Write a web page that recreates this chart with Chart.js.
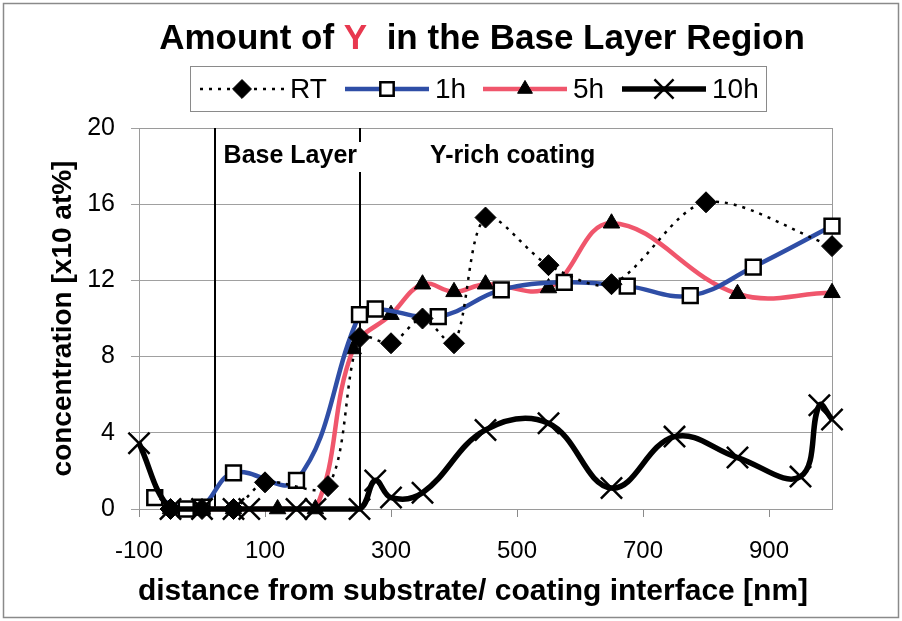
<!DOCTYPE html>
<html>
<head>
<meta charset="utf-8">
<script src="https://cdn.jsdelivr.net/npm/chart.js@4.4.0/dist/chart.umd.min.js"></script>
<style>
  html, body { margin: 0; padding: 0; background: #fff; }
  #wrap { width: 902px; height: 621px; }
</style>
</head>
<body>
<div id="wrap"><canvas id="c" width="902" height="621"></canvas></div>
<script>
// series values (x in nm, y in x10 at%)
const rtX = [-50, 0, 50, 100, 200, 250, 300, 350, 400, 450, 550, 650, 800, 1000];
const rtY = [0, 0, 0, 1.4, 1.2, 9.0, 8.7, 10.0, 8.7, 15.3, 12.8, 11.8, 16.1, 13.8];

const h1X = [-75, -25, 0, 50, 150, 250, 275, 375, 475, 575, 675, 775, 875, 1000];
const h1Y = [0.6, 0, 0.1, 1.9, 1.5, 10.2, 10.5, 10.1, 11.5, 11.9, 11.7, 11.2, 12.7, 14.85];

const h5X = [-50, 0, 50, 120, 180, 240, 300, 350, 400, 450, 550, 650, 850, 1000];
const h5Y = [0, 0, 0, 0, 0, 8.4, 10.2, 11.8, 11.4, 11.8, 11.6, 15.0, 11.3, 11.35];

const h10X = [-100, -50, 0, 50, 75, 150, 180, 250, 275, 300, 350, 450, 550, 650, 750, 850, 950, 980, 1000];
const h10Y = [3.45, 0, 0, 0, 0, 0, 0, 0, 1.5, 0.6, 0.85, 4.15, 4.5, 1.1, 3.8, 2.7, 1.7, 5.45, 4.7];

const seriesNames = ['RT', '1h', '5h', '10h'];
const xTicks = [-100, 100, 300, 500, 700, 900];
const regionBounds = [20, 250];
const regionLabels = ['Base Layer', 'Y-rich coating'];
const xTitle = 'distance from substrate/ coating interface [nm]';

const FONT = "'Liberation Sans', Arial, sans-serif";

const toPts = (xs, ys) => xs.map((x, i) => ({ x: x, y: ys[i] }));

const styles = [
    { color: '#000000', width: 2.5, dash: [3, 6], point: 'rectRot', radius: 10.5, fill: '#000', pbw: 1 },
    { color: '#2f4ea6', width: 4.5, dash: [], point: 'rect', radius: 10.5, fill: '#ffffff', pbw: 2.5 },
    { color: '#f0566c', width: 4.5, dash: [], point: 'triangle', radius: 9.5, fill: '#000', pbw: 1 },
    { color: '#000000', width: 5.5, dash: [], point: 'crossRot', radius: 15, fill: '#000', pbw: 2.5 }
];
const seriesData = [toPts(rtX, rtY), toPts(h1X, h1Y), toPts(h5X, h5Y), toPts(h10X, h10Y)];
const drawOrder = [1, 2, 3, 0];

const datasets = seriesNames.map((name, i) => ({
    label: name,
    data: seriesData[i],
    borderColor: styles[i].color,
    borderWidth: styles[i].width,
    borderDash: styles[i].dash,
    tension: i === 0 ? 0.3 : 0.4,
    pointStyle: styles[i].point,
    pointRadius: styles[i].radius,
    pointBackgroundColor: styles[i].fill,
    pointBorderColor: '#000',
    pointBorderWidth: styles[i].pbw,
    fill: false,
    clip: 16,
    order: drawOrder[i]
}));

// frame, region lines + labels, title, x title and legend box
const decor = {
    id: 'decor',
    beforeDraw(chart) {
        const { ctx, width, height } = chart;
        ctx.save();
        ctx.fillStyle = '#fff';
        ctx.fillRect(0, 0, width, height);
        ctx.strokeStyle = '#8a8a8a';
        ctx.lineWidth = 1.5;
        ctx.strokeRect(3.5, 3.5, width - 7, height - 7);
        ctx.restore();
    },
    beforeDatasetsDraw(chart) {
        const { ctx, chartArea: a, scales: { x } } = chart;
        ctx.save();
        ctx.strokeStyle = '#9a9a9a';
        ctx.lineWidth = 1;
        ctx.strokeRect(a.left + 0.5, a.top + 0.5, a.right - a.left, a.bottom - a.top);
        ctx.strokeStyle = '#000';
        ctx.lineWidth = 2;
        regionBounds.forEach(v => {
            const px = Math.round(x.getPixelForValue(v));
            ctx.beginPath();
            ctx.moveTo(px, a.top);
            ctx.lineTo(px, a.bottom);
            ctx.stroke();
        });
        ctx.font = 'bold 25px ' + FONT;
        ctx.textBaseline = 'middle';
        const b1 = x.getPixelForValue(regionBounds[0]);
        const w1 = ctx.measureText(regionLabels[0]).width;
        ctx.fillStyle = '#fff';
        ctx.fillRect(b1 + 7, a.top + 14, w1 + 6, 30);
        ctx.fillStyle = '#000';
        ctx.fillText(regionLabels[0], b1 + 9, a.top + 28);
        ctx.fillText(regionLabels[1], 430, a.top + 28);
        ctx.restore();
    },
    afterDraw(chart) {
        const { ctx } = chart;
        ctx.save();
        // title with red Y
        const parts = [['Amount of ', '#000'], ['Y', '#e8384f'], ['  in the Base Layer Region', '#000']];
        ctx.font = 'bold 35px ' + FONT;
        ctx.textBaseline = 'middle';
        const total = parts.reduce((s, p) => s + ctx.measureText(p[0]).width, 0);
        let tx = 482 - total / 2;
        parts.forEach(p => {
            ctx.fillStyle = p[1];
            ctx.fillText(p[0], tx, 39);
            tx += ctx.measureText(p[0]).width;
        });

        // x axis title (sits a bit left of the plot centre in the original)
        ctx.font = 'bold 30px ' + FONT;
        ctx.textAlign = 'center';
        ctx.fillStyle = '#000';
        ctx.fillText(xTitle, 473, 592);
        ctx.textAlign = 'left';

        // legend
        ctx.strokeStyle = '#8a8a8a';
        ctx.lineWidth = 1;
        ctx.strokeRect(190.5, 66.5, 576, 45);
        const lineStart = [200, 345, 483, 622];
        const ly = 89;
        ctx.font = '28px ' + FONT;
        seriesNames.forEach((name, i) => {
            const s = styles[i];
            const x0 = lineStart[i], x1 = x0 + 84;
            ctx.strokeStyle = s.color;
            ctx.lineWidth = s.width;
            ctx.setLineDash(s.dash);
            ctx.beginPath();
            ctx.moveTo(x0, ly);
            ctx.lineTo(x1, ly);
            ctx.stroke();
            ctx.setLineDash([]);
            ctx.fillStyle = s.fill;
            ctx.strokeStyle = '#000';
            ctx.lineWidth = s.pbw;
            Chart.helpers.drawPoint(ctx, { pointStyle: s.point, radius: s.radius * 0.9, rotation: 0, borderWidth: s.pbw }, (x0 + x1) / 2, ly);
            ctx.fillStyle = '#000';
            ctx.fillText(name, x1 + 6, ly + 1);
        });
        ctx.restore();
    }
};

new Chart(document.getElementById('c'), {
    type: 'line',
    data: { datasets: datasets },
    options: {
        responsive: false,
        animation: false,
        layout: { padding: { top: 128, right: 70, bottom: 0, left: 0 } },
        plugins: { legend: { display: false }, tooltip: { enabled: false } },
        scales: {
            x: {
                type: 'linear',
                min: -100,
                max: 1000,
                afterBuildTicks: s => { s.ticks = xTicks.map(v => ({ value: v })); },
                afterFit: s => { s.height = 112; },
                ticks: { color: '#000', font: { size: 24, family: FONT }, padding: 20, autoSkip: false, maxRotation: 0 },
                grid: { drawOnChartArea: false, color: '#8a8a8a', tickLength: 8 },
                border: { color: '#9a9a9a' },
                title: { display: false }
            },
            y: {
                min: 0,
                max: 20,
                afterFit: s => { s.width = 139; },
                ticks: { stepSize: 4, color: '#000', font: { size: 25, family: FONT }, padding: 16 },
                grid: { color: '#a0a0a0', tickLength: 8 },
                border: { color: '#9a9a9a' },
                title: {
                    display: true,
                    text: 'concentration [x10 at%]',
                    color: '#000',
                    font: { size: 28, weight: 'bold', family: FONT },
                    padding: { top: 46, bottom: 0 }
                }
            }
        }
    },
    plugins: [decor]
});
</script>
</body>
</html>
